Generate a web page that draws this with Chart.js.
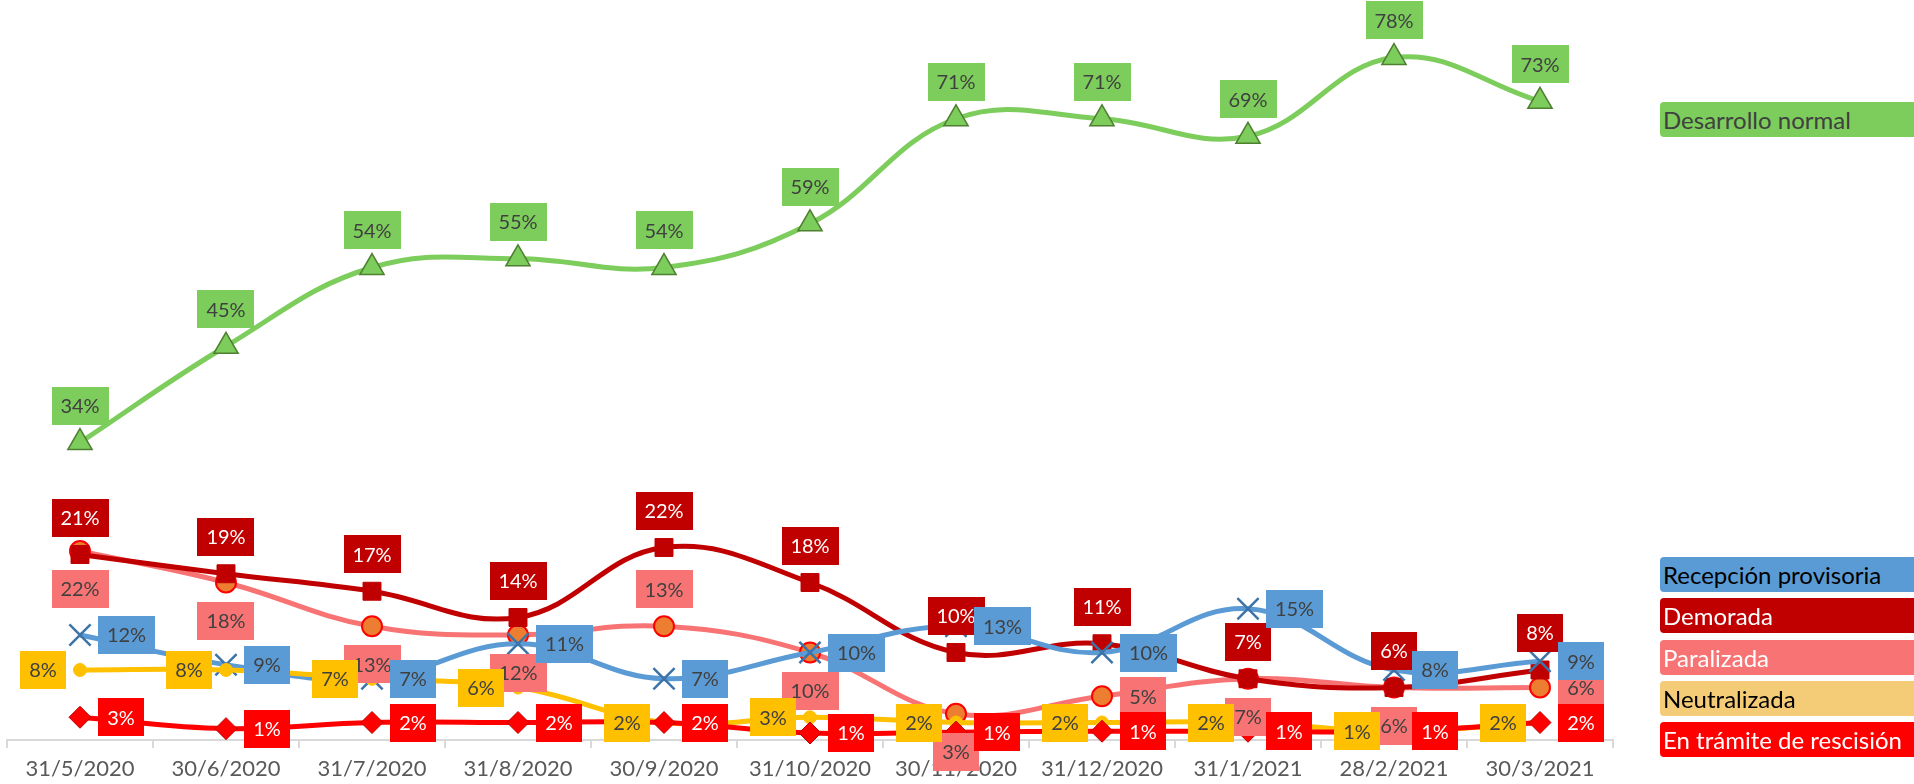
<!DOCTYPE html>
<html>
<head>
<meta charset="utf-8">
<script src="https://cdn.jsdelivr.net/npm/chart.js@4.4.1/dist/chart.umd.min.js"></script>
<style>
html, body { margin: 0; padding: 0; background: #fff; }
#wrap { position: relative; width: 1914px; height: 784px; overflow: hidden; }
#chart { position: absolute; left: 0; top: 0; }
.leg { position: absolute; left: 1660px; width: 280px; height: 35px; line-height: 35px;
       border-radius: 4px; font-family: Lato, sans-serif; font-size: 24px;
       padding-left: 3px; box-sizing: border-box; white-space: nowrap; }
</style>
</head>
<body>
<div id="wrap">
  <canvas id="chart" width="1914" height="784"></canvas>
</div>
<script>
// categories (fechas de corte)
const fechas = ['31/5/2020', '30/6/2020', '31/7/2020', '31/8/2020', '30/9/2020', '31/10/2020',
                '30/11/2020', '31/12/2020', '31/1/2021', '28/2/2021', '30/3/2021'];

// % of works in each state
const desarrollo_normal = [34, 45, 54, 55, 54, 59, 71, 71, 69, 78, 73];
const recepcion_provisoria = [12, 8.6, 7, 11, 7, 10, 13, 10, 15, 8, 9];
const demorada = [21.2, 19, 17, 14, 22, 18, 10, 11, 7, 6, 8];
const paralizada = [21.6, 18, 13, 12, 13, 10, 3, 5, 7, 6, 6];
const neutralizada = [8, 8, 7, 6, 2, 2.6, 2, 2, 2, 1, 2];
const en_tramite = [2.6, 1.3, 2, 2, 2, 0.8, 0.9, 1, 1, 1, 2];

const FONT = 'Lato';

// data label placement for each point
const A = 'above', B = 'below', R = 'right', L = 'left';
const pos_paralizada = [B, B, B, B, A, B, B, R, B, B, R];

const series = [
    { label: 'Desarrollo normal', data: desarrollo_normal, color: '#7DCD5C', order: 6,
      pointStyle: 'triangle', radius: 14, pointBg: '#7DCD5C', pointBorder: '#4F7F30', pointBw: 1.5,
      labelFill: '#7DCD5C', labelColor: '#404040', labelPos: Array(11).fill(A),
      legendFill: '#7DCD5C', legendText: '#404040', legendTop: 102 },
    { label: 'Recepción provisoria', data: recepcion_provisoria, color: '#5B9BD5', order: 3,
      pointStyle: 'crossRot', radius: 15, pointBg: '#3C73A8', pointBorder: '#3C73A8', pointBw: 2.5,
      labelFill: '#5B9BD5', labelColor: '#404040', labelPos: Array(11).fill(R),
      legendFill: '#5B9BD5', legendText: '#000000', legendTop: 557 },
    { label: 'Demorada', data: demorada, color: '#C00000', order: 4,
      pointStyle: 'rect', radius: 12.7, pointBg: '#C00000', pointBorder: '#C00000', pointBw: 1,
      labelFill: '#C00000', labelColor: '#FFFFFF', labelPos: Array(11).fill(A),
      legendFill: '#C00000', legendText: '#FFFFFF', legendTop: 598 },
    { label: 'Paralizada', data: paralizada, color: '#F87474', order: 5,
      pointStyle: 'circle', radius: 10, pointBg: '#ED7D31', pointBorder: '#FF0000', pointBw: 2,
      labelFill: '#F87474', labelColor: '#404040', labelPos: pos_paralizada,
      legendFill: '#F87474', legendText: '#FFFFFF', legendTop: 640 },
    { label: 'Neutralizada', data: neutralizada, color: '#FFC000', order: 2,
      pointStyle: 'circle', radius: 6.5, pointBg: '#FFC000', pointBorder: '#FFC000', pointBw: 1,
      labelFill: '#FFC000', labelColor: '#404040', labelPos: Array(11).fill(L),
      legendFill: '#F4CC78', legendText: '#000000', legendTop: 681 },
    { label: 'En trámite de rescisión', data: en_tramite, color: '#FF0000', order: 1,
      pointStyle: 'rectRot', radius: 11, pointBg: '#FF0000', pointBorder: '#C00000', pointBw: 1,
      labelFill: '#FF0000', labelColor: '#FFFFFF', labelPos: Array(11).fill(R),
      legendFill: '#FF0000', legendText: '#FFFFFF', legendTop: 722 }
];

// order in which the label boxes are painted (last on top)
const labelOrder = ['Desarrollo normal', 'Demorada', 'Paralizada', 'Neutralizada',
                    'Recepción provisoria', 'En trámite de rescisión'];

const boxLabels = {
    id: 'boxLabels',
    afterDatasetsDraw(chart) {
        const ctx = chart.ctx;
        ctx.save();
        ctx.font = '20px ' + FONT;
        ctx.textAlign = 'center';
        ctx.textBaseline = 'middle';
        labelOrder.forEach(name => {
            const idx = series.findIndex(s => s.label === name);
            const s = series[idx];
            const meta = chart.getDatasetMeta(idx);
            meta.data.forEach((pt, i) => {
                const txt = Math.round(s.data[i]) + '%';
                const w = Math.round(ctx.measureText(txt).width + 18);
                const h = 38;
                let cx = pt.x, cy = pt.y;
                const p = s.labelPos[i];
                if (p === A) cy = pt.y - 37;
                else if (p === B) cy = pt.y + 38;
                else if (p === R) cx = pt.x + 18 + w / 2;
                else if (p === L) cx = pt.x - 14 - w / 2;
                ctx.fillStyle = s.labelFill;
                ctx.fillRect(Math.round(cx - w / 2), Math.round(cy - h / 2), w, h);
                ctx.fillStyle = s.labelColor;
                ctx.fillText(txt, cx, cy + 1);
            });
        });
        ctx.restore();
    }
};

const ctx = document.getElementById('chart').getContext('2d');

new Chart(ctx, {
    type: 'line',
    data: {
        labels: fechas,
        datasets: series.map(s => ({
            label: s.label,
            data: s.data,
            order: s.order,
            borderColor: s.color,
            backgroundColor: s.color,
            borderWidth: 5,
            tension: 0.4,
            fill: false,
            clip: false,
            pointStyle: s.pointStyle,
            pointRadius: s.radius,
            pointBackgroundColor: s.pointBg,
            pointBorderColor: s.pointBorder,
            pointBorderWidth: s.pointBw
        }))
    },
    options: {
        responsive: false,
        animation: false,
        devicePixelRatio: 1,
        layout: { autoPadding: false, padding: { left: 7, right: 301, top: 5, bottom: 0 } },
        plugins: { legend: { display: false }, tooltip: { enabled: false } },
        scales: {
            x: {
                offset: true,
                grid: { offset: true, drawOnChartArea: false, drawTicks: true, tickLength: 8,
                        color: '#D9D9D9', lineWidth: 2 },
                border: { display: true, color: '#D9D9D9', width: 2 },
                ticks: { color: '#595959', font: { family: FONT, size: 22 }, padding: 8,
                          maxRotation: 0, autoSkip: false },
                afterFit: (scale) => {
                    scale.height = 44;
                    scale.paddingLeft = 0;
                    scale.paddingRight = 0;
                }
            },
            y: {
                display: false,
                min: 0,
                max: 84
            }
        }
    },
    plugins: [boxLabels]
});

// legend entries as coloured text boxes on the right
const wrap = document.getElementById('wrap');
series.forEach(s => {
    const d = document.createElement('div');
    d.className = 'leg';
    d.textContent = s.label;
    d.style.top = s.legendTop + 'px';
    d.style.background = s.legendFill;
    d.style.color = s.legendText;
    wrap.appendChild(d);
});
</script>
</body>
</html>
